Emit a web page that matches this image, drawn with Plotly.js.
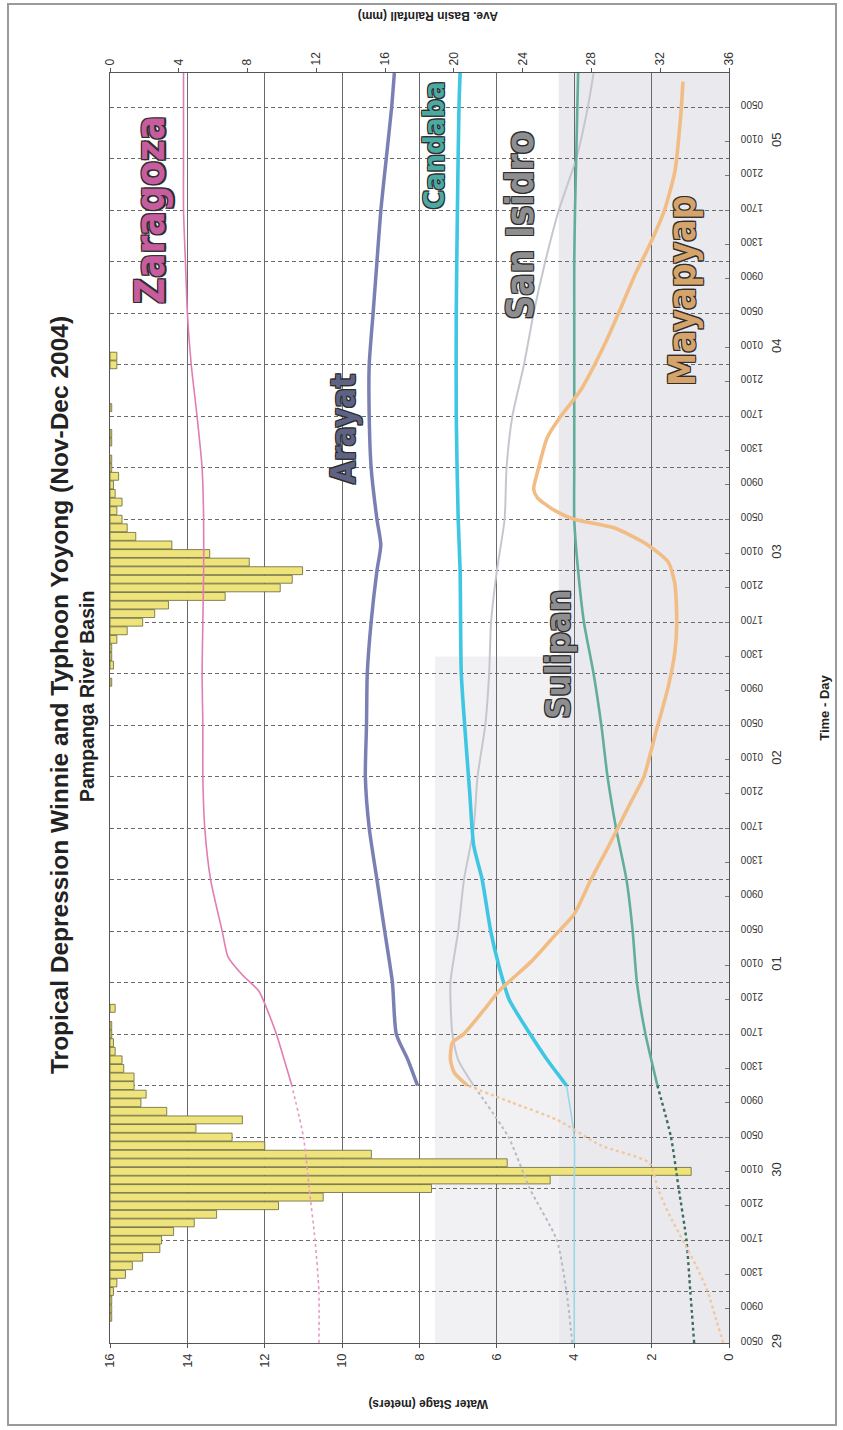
<!DOCTYPE html>
<html><head><meta charset="utf-8">
<script src="https://cdn.plot.ly/plotly-3.0.1.min.js"></script>
<style>html,body{margin:0;padding:0;background:#fff}#chart{width:843px;height:1430px}</style>
</head><body><div id="chart"></div>
<script>
// Time is counted in hours from 29 Nov 2004 00:00
const rainHours = [8,9,10,11,12,13,14,15,16,17,18,19,20,21,22,23,24,25,26,27,28,29,30,31,32,33,34,35,36,37,38,39,40,41,42,44,
  82,84,85,86,87,88,89,90,91,92,93,94,95,96,97,98,99,100,101,102,103,104,105,106,107,108,110,111,114,119,120];
const rainMm = [0.1,0.1,0.1,0.2,0.4,0.9,1.3,1.9,2.9,3.0,3.7,4.9,6.2,9.8,12.4,18.7,25.6,33.8,23.1,15.2,9.0,7.1,5.0,7.7,3.3,1.8,2.1,1.4,1.4,0.8,0.7,0.3,0.2,0.1,0.1,0.3,
  0.1,0.2,0.1,0.1,0.4,1.0,1.9,2.6,3.4,6.7,9.9,10.6,11.2,8.1,5.8,3.6,1.5,1.0,0.7,0.4,0.7,0.3,0.2,0.5,0.1,0.1,0.1,0.1,0.1,0.4,0.4];

const zaragozaHours = [5,11,17,23,29,35,41,44,46,48,50,53,59,65,71,77,83,89,95,101,107,113,119,125,131,137,143,149,153];
const zaragozaStage = [10.6,10.6,10.7,10.85,11.0,11.3,11.7,11.95,12.15,12.6,12.95,13.1,13.4,13.55,13.6,13.6,13.62,13.6,13.58,13.58,13.62,13.75,13.9,14.0,14.05,14.1,14.1,14.1,14.1];

const arayatHours = [35,38,41,47,53,59,65,71,77,83,89,95,98,101,107,113,119,125,131,137,143,149,153];
const arayatStage = [8.05,8.3,8.6,8.7,8.9,9.1,9.3,9.4,9.37,9.35,9.25,9.1,9.0,9.1,9.25,9.3,9.3,9.2,9.1,9.0,8.86,8.72,8.65];

const candabaHours = [5,11,17,23,29,35,38,41,45,49,53,59,63,69,75,83,95,101,113,125,137,149,153];
const candabaStage = [4.0,4.0,4.0,4.0,4.0,4.2,4.7,5.14,5.68,5.95,6.16,6.38,6.6,6.7,6.8,6.92,6.95,7.0,7.05,7.05,7.02,6.98,6.95];

const sanIsidroHours = [5,11,17,23,29,35,38,41,47,53,59,65,71,77,83,89,95,101,107,113,119,125,131,137,143,149,153];
const sanIsidroStage = [4.05,4.2,4.45,5.15,5.7,6.6,7.0,7.15,7.2,7.0,6.85,6.6,6.5,6.3,6.2,6.15,6.0,5.8,5.75,5.6,5.3,5.05,4.75,4.4,3.95,3.65,3.5];

const sulipanHours = [5,11,17,23,29,35,41,47,53,59,65,71,77,83,89,95,101,107,113,119,125,131,137,143,149,153];
const sulipanStage = [0.9,1.0,1.1,1.3,1.5,1.85,2.16,2.38,2.49,2.65,2.92,3.14,3.3,3.5,3.75,3.9,4.0,4.0,4.0,4.0,4.0,4.0,3.98,3.95,3.92,3.9];

const mayapyapHours = [5,8,11,14,17,20,23,26,28,31,33,35,36.5,38,40,41,44,46,49.5,52.5,55,59,63,68,71,76,81.5,85.5,89,93.5,96,98,100,101,102,103.5,104.5,106.5,110.5,113,116,121.5,126,129.5,132.5,137,141.5,148.5,152];
const mayapyapStage = [0.15,0.35,0.55,0.85,1.2,1.55,1.84,2.06,3.3,4.44,5.6,6.76,7.1,7.2,7.15,6.86,6.3,5.95,5.1,4.5,4.0,3.57,3.1,2.54,2.2,1.9,1.57,1.4,1.35,1.4,1.57,2.1,2.97,4.0,4.5,4.95,5.05,4.95,4.7,4.35,3.84,3.2,2.76,2.43,2.1,1.67,1.4,1.24,1.19];

const timeLabelHours = [5,9,13,17,21,25,29,33,37,41,45,49,53,57,61,65,69,73,77,81,85,89,93,97,101,105,109,113,117,121,125,129,133,137,141,145,149];
const timeLabels = ["0500","0900","1300","1700","2100","0100","0500","0900","1300","1700","2100","0100","0500","0900","1300","1700","2100","0100",
  "0500","0900","1300","1700","2100","0100","0500","0900","1300","1700","2100","0100","0500","0900","1300","1700","2100","0100","0500"];
const gridHours = [5,11,17,23,29,35,41,47,53,59,65,71,77,83,89,95,101,107,113,119,125,131,137,143,149];
const dayHours = [5,25,49,73,97,121,145];
const dayLabels = ["29","30","01","02","03","04","05"];
const stageTicks = [0,2,4,6,8,10,12,14,16];
const rainTicks = [0,4,8,12,16,20,24,28,32,36];
const observedFrom = 35; // before this hour the lines are dotted

const stations = ["Zaragoza","Arayat","Candaba","San Isidro","Sulipan","Mayapyap"];

function part(h, v, early) {
  const xs = [], ys = [];
  h.forEach((t, i) => { if (early ? t <= observedFrom : t >= observedFrom) { xs.push(v[i]); ys.push(t); } });
  return {x: xs, y: ys};
}
function lineTraces(h, v, colLate, wLate, colEarly, wEarly, dashEarly) {
  const out = [];
  const e = part(h, v, true);
  if (e.x.length > 1) out.push({type:'scatter', mode:'lines', x:e.x, y:e.y, xaxis:'x2', yaxis:'y',
    line:{color:colEarly, width:wEarly, dash:dashEarly, shape:'spline', smoothing:0.6}, hoverinfo:'skip'});
  const l = part(h, v, false);
  out.push({type:'scatter', mode:'lines', x:l.x, y:l.y, xaxis:'x2', yaxis:'y',
    line:{color:colLate, width:wLate, shape:'spline', smoothing:0.6}, hoverinfo:'skip'});
  return out;
}

const traces = [
  {type:'bar', orientation:'h', x: rainMm, y: rainHours, xaxis:'x', yaxis:'y',
   marker:{color:'#efe37c', line:{color:'#66663a', width:0.8}}, hoverinfo:'skip'},
  ...lineTraces(zaragozaHours, zaragozaStage, '#e27cb4', 1.6, '#e79ac4', 1.6, 'dot'),
  ...lineTraces(arayatHours, arayatStage, '#7b80b4', 3.5, '#7b80b4', 3, 'dot'),
  ...lineTraces(sanIsidroHours, sanIsidroStage, '#c6c6ce', 2, '#b8b8c0', 2, 'dot'),
  ...lineTraces(sulipanHours, sulipanStage, '#62ad9c', 2.6, '#3e6e58', 2.4, 'dot'),
  ...lineTraces(candabaHours, candabaStage, '#3fc6e2', 3.6, '#9ad8e8', 1.6, 'solid'),
  ...lineTraces(mayapyapHours, mayapyapStage, '#f2bd84', 3.6, '#f0c8a2', 2.4, 'dot'),
  // invisible carriers so that the label axes are drawn
  {type:'scatter', mode:'markers', x:[0], y:[5], xaxis:'x', yaxis:'y2', marker:{opacity:0}, hoverinfo:'skip'},
  {type:'scatter', mode:'markers', x:[0], y:[5], xaxis:'x', yaxis:'y3', marker:{opacity:0}, hoverinfo:'skip'}
];

const FONT = 'Liberation Sans, Arial, Helvetica, sans-serif';
const LBL = 'Liberation Sans Narrow, Arial Narrow, DejaVu Sans Condensed, Liberation Sans, sans-serif';
const outline = c => `-1.2px -1.2px 0 ${c}, 1.2px -1.2px 0 ${c}, -1.2px 1.2px 0 ${c}, 1.2px 1.2px 0 ${c}`;
const D = 619/713;

const labelPos = [
  {x:14.95, y:137.0, color:'#c75d9f', size:40},
  {x:9.98, y:111.5, color:'#5e6283', size:33},
  {x:7.62, y:144.6, color:'#4aa9a2', size:29},
  {x:5.38, y:135.2, color:'#8e8e90', size:37},
  {x:4.42, y:85.2, color:'#8e8e90', size:34},
  {x:1.19, y:127.6, color:'#d6a36a', size:37}
];

const annotations = stations.map((s, i) => ({
  text: s, xref:'x2', yref:'y', x: labelPos[i].x, y: labelPos[i].y, showarrow:false, textangle:-90,
  xanchor:'center', yanchor:'middle',
  font:{family:LBL, size:labelPos[i].size, weight:700, color:labelPos[i].color, shadow: outline('#2e2e2e')}
}));
annotations.push(
  {text:'Tropical Depression Winnie and Typhoon Yoyong (Nov-Dec 2004)',
   xref:'paper', yref:'paper', x:(60-110)/713, y:(1343-695)/1270, showarrow:false, textangle:-90,
   xanchor:'center', yanchor:'middle', font:{family:FONT, size:24.5, weight:700, color:'#222'}},
  {text:'Pampanga River Basin',
   xref:'paper', yref:'paper', x:(87-110)/713, y:(1343-697)/1270, showarrow:false, textangle:-90,
   xanchor:'center', yanchor:'middle', font:{family:FONT, size:19.5, weight:700, color:'#222'}},
  {text:'Water Stage (meters)', xref:'paper', yref:'paper', x:(428-110)/713, y:(1343-1404)/1270,
   xanchor:'center', yanchor:'middle',
   showarrow:false, textangle:180, font:{family:FONT, size:12, weight:700, color:'#222'}},
  {text:'Ave. Basin Rainfall (mm)', xref:'paper', yref:'paper', x:(428-110)/713, y:(1343-16)/1270,
   xanchor:'center', yanchor:'middle',
   showarrow:false, textangle:180, font:{family:FONT, size:12, weight:700, color:'#222'}}
);

const shapes = [
  {type:'rect', xref:'x2', yref:'y', x0:4.4, x1:0, y0:5, y1:153, fillcolor:'#e9e9ee', line:{width:0}, layer:'below'},
  {type:'rect', xref:'x2', yref:'y', x0:7.6, x1:4.4, y0:5, y1:85, fillcolor:'#f1f1f4', line:{width:0}, layer:'below'},
  {type:'rect', xref:'paper', yref:'paper', x0:(8-110)/713, x1:(836-110)/713, y0:(1343-1425)/1270, y1:(1343-4)/1270,
   line:{color:'#9a9a9a', width:2}, fillcolor:'rgba(0,0,0,0)'}
];

const layout = {
  width:843, height:1430, showlegend:false,
  margin:{l:110, r:20, t:73, b:87},
  paper_bgcolor:'#ffffff', plot_bgcolor:'#ffffff',
  font:{family:FONT, color:'#222'},
  bargap:0.08,
  xaxis:{domain:[0, D], side:'top', anchor:'y', range:[0,36], tickvals:rainTicks, tickangle:-90,
    showgrid:false, zeroline:false, showline:true, linecolor:'#555', linewidth:1.2,
    ticks:'outside', ticklen:4, tickcolor:'#555', tickfont:{size:12, color:'#333'}},
  xaxis2:{overlaying:'x', side:'bottom', anchor:'y', range:[16,0], tickvals:stageTicks, tickangle:-90,
    showgrid:true, gridcolor:'#6a6a6a', gridwidth:1, zeroline:false, showline:true, linecolor:'#555', linewidth:1.2,
    ticks:'outside', ticklen:4, tickcolor:'#555', tickfont:{size:13, color:'#333'}},
  yaxis:{domain:[0,1], anchor:'x', side:'right', range:[5,153], tickvals:gridHours, showticklabels:false,
    showgrid:true, gridcolor:'#6a6a6a', gridwidth:1, griddash:'4px,3px', zeroline:false,
    showline:true, mirror:true, linecolor:'#555', linewidth:1.2, ticks:''},
  yaxis2:{overlaying:'y', anchor:'x', side:'right', range:[5,153], tickvals:timeLabelHours, ticktext:timeLabels,
    tickangle:180, showgrid:false, zeroline:false, showline:false, ticks:'inside', ticklen:4, tickcolor:'#777',
    ticklabelstandoff:33, tickfont:{size:10, color:'#333'}},
  yaxis3:{overlaying:'y', anchor:'free', position:0.922, side:'right', range:[5,153], tickvals:dayHours, ticktext:dayLabels,
    tickangle:-90, showgrid:false, zeroline:false, showline:false, ticks:'',
    tickfont:{size:13, color:'#333'},
    title:{text:'Time - Day', font:{size:13, weight:700, color:'#222'}, standoff:36}},
  annotations, shapes
};

Plotly.newPlot('chart', traces, layout, {displayModeBar:false, staticPlot:true});
</script></body></html>
